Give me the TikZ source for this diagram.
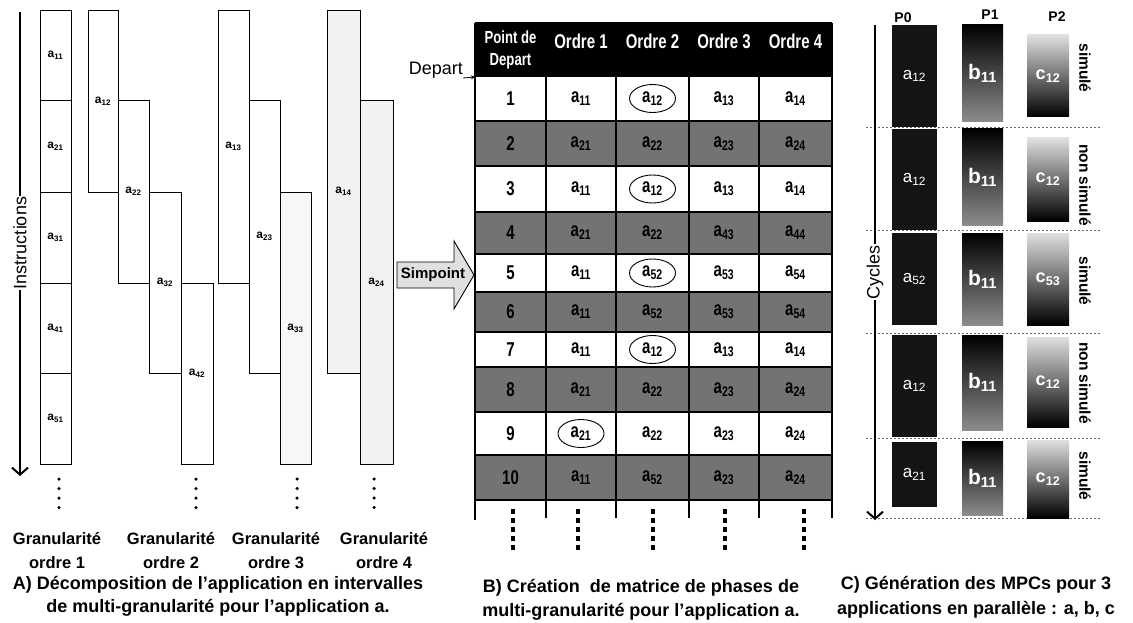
\documentclass[tikz,border=0pt]{standalone}
\usepackage{fontspec}
\setmainfont{Liberation Sans}
\newfontfamily\narrowfont[FakeStretch=0.75]{Liberation Sans}
\usetikzlibrary{arrows.meta,shapes.geometric}
\newcommand\sbs[1]{\textsubscript{#1}}
\newcommand\fsz[2]{\fontsize{#1}{#2}\selectfont}
\begin{document}
\begin{tikzpicture}[x=1pt,y=-1pt,
  ibox/.style={draw=black, line width=0.9pt, inner sep=0pt, font=\bfseries\fsz{12}{14}},
  tcell/.style={font=\narrowfont\bfseries\fsz{20}{22}, inner sep=1pt},
  hcell/.style={font=\narrowfont\bfseries\fsz{20}{22}, text=white, inner sep=1pt},
  circ/.style={draw, ellipse, line width=0.9pt, minimum width=46pt, minimum height=28pt, inner sep=0pt},
  captxt/.style={font=\bfseries\fsz{18}{23}, align=center, inner sep=0pt},
  gcap/.style={font=\bfseries\fsz{16.5}{24}, align=center, inner sep=0pt},
  rdots/.style={line width=3.5pt, line cap=round, dash pattern=on 0pt off 9.5pt},
  sdots/.style={line width=3.5pt, dash pattern=on 4.5pt off 4.5pt},
  tline/.style={line width=2pt},
  rowgray/.style={fill=black!55},
  axis/.style={line width=2.2pt, -{Straight Barb[length=7pt,width=16pt,line width=2pt]}},
  axlab/.style={font=\fsz{18}{20}, fill=white, inner sep=1pt, rotate=90},
  pz/.style={fill=black!92, text=white, font=\fsz{17}{18}, inner sep=0pt, minimum width=45pt},
  pa/.style={top color=black, middle color=black!88, bottom color=black!45, text=white, font=\bfseries\fsz{21}{22}, inner sep=0pt, minimum width=41pt},
  pb/.style={top color=black!12, middle color=black!55, bottom color=black, text=white, font=\bfseries\fsz{18}{20}, inner sep=0pt, minimum width=42pt},
  side/.style={font=\bfseries\fsz{15.5}{17}, rotate=-90, inner sep=0pt},
  sepline/.style={line width=0.6pt, black!60, dash pattern=on 2pt off 2pt},
  phead/.style={font=\bfseries\fsz{14}{16}, inner sep=0pt}
]
\useasboundingbox (0,0) rectangle (1133,623);

% ---------------- Panel A ----------------
\coordinate (iT) at (20,12);
\coordinate (iB) at (20,476);
\draw[axis] (iT) -- (iB);
\node[axlab] (instr) at (20,243) {Instructions};

\node[ibox, minimum width=31pt, minimum height=90pt] (A11) at (55.5,55) {a\sbs{11}};
\node[ibox, minimum width=31pt, minimum height=92pt] (A21) at (55.5,146) {a\sbs{21}};
\node[ibox, minimum width=31pt, minimum height=91pt] (A31) at (55.5,237.5) {a\sbs{31}};
\node[ibox, minimum width=31pt, minimum height=90pt] (A41) at (55.5,328) {a\sbs{41}};
\node[ibox, minimum width=31pt, minimum height=91pt] (A51) at (55.5,418.5) {a\sbs{51}};

\node[ibox, minimum width=30pt, minimum height=182pt] (A12) at (103,101) {a\sbs{12}};
\node[ibox, minimum width=31pt, minimum height=183pt] (A22) at (133.5,191.5) {a\sbs{22}};
\node[ibox, minimum width=32pt, minimum height=181pt] (A32) at (165,282.5) {a\sbs{32}};
\node[ibox, minimum width=32pt, minimum height=181pt] (A42) at (197,373.5) {a\sbs{42}};

\node[ibox, minimum width=31pt, minimum height=273pt] (A13) at (233.5,146.5) {a\sbs{13}};
\node[ibox, minimum width=31pt, minimum height=273pt] (A23) at (264.5,236.5) {a\sbs{23}};
\node[ibox, fill=black!3, minimum width=31pt, minimum height=272pt] (A33) at (295.5,328) {a\sbs{33}};

\node[ibox, fill=black!5, minimum width=33pt, minimum height=363pt] (A14) at (343.5,191.5) {a\sbs{14}};
\node[ibox, fill=black!5, minimum width=33pt, minimum height=364pt] (A24) at (376.5,282) {a\sbs{24}};

\draw[rdots] (59,479) -- (59,512);
\draw[rdots] (196,479) -- (196,512);
\draw[rdots] (297,479) -- (297,512);
\draw[rdots] (374,479) -- (374,512);

\node[gcap] (g1) at (57,551) {Granularité\\ordre 1};
\node[gcap] (g2) at (171,551) {Granularité\\ordre 2};
\node[gcap] (g3) at (276,551) {Granularité\\ordre 3};
\node[gcap] (g4) at (384,551) {Granularité\\ordre 4};

\node[captxt] (capA) at (218,596) {A) Décomposition de l’application en intervalles\\de multi-granularité pour l’application a.};

% ---------------- Panel B ----------------
\fill[black] (475,23) rectangle (832,76);
\node[hcell, align=center, font=\narrowfont\bfseries\fsz{17.5}{22}] (h0) at (510.5,50) {Point de\\Depart};
\node[hcell] (h1) at (581,41) {Ordre 1};
\node[hcell] (h2) at (652.5,41) {Ordre 2};
\node[hcell] (h3) at (724,41) {Ordre 3};
\node[hcell] (h4) at (795.5,41) {Ordre 4};

\foreach \i/\yt/\yb/\p/\q/\s/\t in {
 1/76/121/11/12/13/14,
 2/121/166/21/22/23/24,
 3/166/212/11/12/13/14,
 4/212/254/21/22/43/44,
 5/254/292/11/52/53/54,
 6/292/332/11/52/53/54,
 7/332/367/11/12/13/14,
 8/367/412/21/22/23/24,
 9/412/455/21/22/23/24,
 10/455/500/11/52/23/24}{
  \pgfmathsetmacro\ym{(\yt+\yb)/2}
  \ifodd\i\relax\else\fill[rowgray] (475,\yt) rectangle (832,\yb);\fi
  \node[tcell] (r\i-0) at (510.5,\ym) {\i};
  \node[tcell] (r\i-1) at (581,\ym) {a\sbs{\p}};
  \node[tcell] (r\i-2) at (652.5,\ym) {a\sbs{\q}};
  \node[tcell] (r\i-3) at (724,\ym) {a\sbs{\s}};
  \node[tcell] (r\i-4) at (795.5,\ym) {a\sbs{\t}};
}
\node[circ] (e1) at (r1-2) {};
\node[circ] (e3) at (r3-2) {};
\node[circ] (e5) at (r5-2) {};
\node[circ] (e7) at (r7-2) {};
\node[circ] (e9) at (r9-1) {};

\draw[tline] (475,23) -- (832,23);
\foreach \y in {76,121,166,212,254,292,332,367,412,455,500}
  \draw[tline] (475,\y) -- (832,\y);
\draw[tline] (475,23) -- (475,520);
\draw[tline] (832,23) -- (832,518);
\foreach \x in {546,616,689,759}
  \draw[tline] (\x,76) -- (\x,518);

\draw[sdots] (513,509) -- (513,552);
\draw[sdots] (578,509) -- (578,552);
\draw[sdots] (653,509) -- (653,552);
\draw[sdots] (725,509) -- (725,552);
\draw[sdots] (804,509) -- (804,552);

\node[font=\fsz{18}{20}, inner sep=0pt, anchor=south east] (dep) at (463,78) {Depart};
\coordinate (tl) at (475,77);
\draw[line width=0.8pt, -{Stealth[length=4pt,width=4pt]}] (dep.south east) -- (tl);

\draw[line width=0.9pt, fill=black!12] (397,262) -- (454,262) -- (454,241) -- (474,275) -- (454,309) -- (454,288) -- (397,288) -- cycle;
\node[font=\bfseries\fsz{15}{17}, inner sep=0pt] (simp) at (433,275) {Simpoint};

\node[captxt, font=\bfseries\fsz{18}{24}] (capB) at (641,600) {B) Création\ \ de matrice de phases de\\multi-granularité pour l’application a.};

% ---------------- Panel C ----------------
\node[phead] (P0) at (903,18) {P0};
\node[phead] (P1) at (990,15) {P1};
\node[phead] (P2) at (1057,17) {P2};

\foreach \y in {127,230,333,438,518}
  \draw[sepline] (866,\y) -- (1102,\y);

\coordinate (cT) at (875,25);
\coordinate (cB) at (875,520);
\draw[axis] (cT) -- (cB);
\node[axlab] (cyc) at (875,272) {Cycles};

\node[pz, minimum height=102pt] (z1) at (914.5,76) {a\sbs{12}};
\node[pz, minimum height=101pt] (z2) at (914.5,179.5) {a\sbs{12}};
\node[pz, minimum height=92pt] (z3) at (914.5,279) {a\sbs{52}};
\node[pz, minimum height=102pt] (z4) at (914.5,386) {a\sbs{12}};
\node[pz, minimum height=65pt] (z5) at (914.5,474.5) {a\sbs{21}};

\node[pa, minimum height=97pt] (b1) at (982.5,73.5) {b\sbs{11}};
\node[pa, minimum height=96pt] (b2) at (982.5,177) {b\sbs{11}};
\node[pa, minimum height=92pt] (b3) at (982.5,279) {b\sbs{11}};
\node[pa, minimum height=95pt] (b4) at (982.5,382.5) {b\sbs{11}};
\node[pa, minimum height=74pt] (b5) at (982.5,478) {b\sbs{11}};

\node[pb, minimum height=82pt] (c1) at (1048,76) {c\sbs{12}};
\node[pb, minimum height=83pt] (c2) at (1048,179.5) {c\sbs{12}};
\node[pb, minimum height=92pt] (c3) at (1048,279) {c\sbs{53}};
\node[pb, minimum height=90pt] (c4) at (1048,382) {c\sbs{12}};
\node[pb, minimum height=78pt] (c5) at (1048,479) {c\sbs{12}};

\node[side] (s1) at (1085,68) {simulé};
\node[side] (s2) at (1085,185) {non simulé};
\node[side] (s3) at (1085,281) {simulé};
\node[side] (s4) at (1085,383) {non simulé};
\node[side] (s5) at (1085,476) {simulé};

\node[captxt, font=\bfseries\fsz{18}{25}] (capC) at (976,597.5) {C) Génération des MPCs pour 3\\applications en parallèle : a, b, c};
\end{tikzpicture}
\end{document}
